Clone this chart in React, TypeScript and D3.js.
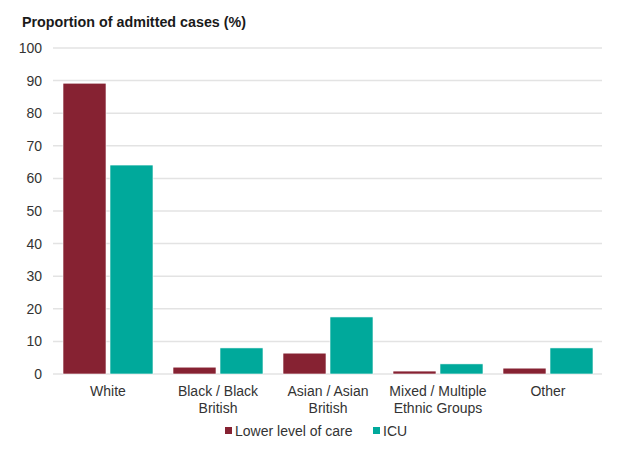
import React from "react";
import * as d3 from "d3";

const categories: string[][] = [
  ["White"],
  ["Black / Black", "British"],
  ["Asian / Asian", "British"],
  ["Mixed / Multiple", "Ethnic Groups"],
  ["Other"],
];
const seriesNames = ["Lower level of care", "ICU"];
const lowerCare = [89.2, 2.1, 6.4, 0.9, 1.8];
const icu = [64.1, 8.0, 17.5, 3.1, 8.0];
const yTicks = [0, 10, 20, 30, 40, 50, 60, 70, 80, 90, 100];
const colors = ["#862232", "#00A99B"];

export default function App() {
  const W = 624, H = 451;
  const left = 53, right = 603, top = 48, bottom = 374;
  const keys = categories.map((c) => c.join(" "));
  const x0 = d3.scaleBand<string>().domain(keys).range([left, right]).padding(0);
  const x1 = d3
    .scaleBand<string>()
    .domain(seriesNames)
    .range([0, x0.bandwidth()])
    .paddingInner(0.085)
    .paddingOuter(0.213);
  const y = d3.scaleLinear().domain([0, 100]).range([bottom, top]);
  const series = [lowerCare, icu];
  const font = "'Liberation Sans', Arial, sans-serif";

  return (
    <svg
      width={W}
      height={H}
      style={{ position: "absolute", left: 0, top: 0, background: "#fff" }}
      fontFamily={font}
    >
      <text x={22} y={27} fontSize={14.3} fontWeight="bold" fill="#1a1a1a">
        Proportion of admitted cases (%)
      </text>
      {yTicks.map((t) => (
        <g key={t}>
          <line x1={left} x2={right - 1} y1={y(t)} y2={y(t)} stroke="#e3e3e3" strokeWidth={1.5} />
          <text x={42} y={y(t) + 5} fontSize={14} textAnchor="end" fill="#333">
            {t}
          </text>
        </g>
      ))}
      {keys.map((k, i) => (
        <g key={k} transform={`translate(${x0(k)},0)`}>
          {series.map((s, j) => (
            <rect
              key={j}
              x={x1(seriesNames[j])}
              y={y(s[i])}
              width={x1.bandwidth()}
              height={y(0) - y(s[i])}
              fill={colors[j]}
              stroke="#fff"
              strokeWidth={0.6}
            />
          ))}
          {categories[i].map((line, li) => (
            <text
              key={li}
              x={x0.bandwidth() / 2}
              y={396 + li * 17}
              fontSize={14}
              textAnchor="middle"
              fill="#333"
            >
              {line}
            </text>
          ))}
        </g>
      ))}
      <g>
        <rect x={225} y={427} width={7} height={7} fill={colors[0]} />
        <text x={235} y={436} fontSize={14} fill="#333">{seriesNames[0]}</text>
        <rect x={373} y={427} width={7} height={7} fill={colors[1]} />
        <text x={383} y={436} fontSize={14} fill="#333">{seriesNames[1]}</text>
      </g>
    </svg>
  );
}
